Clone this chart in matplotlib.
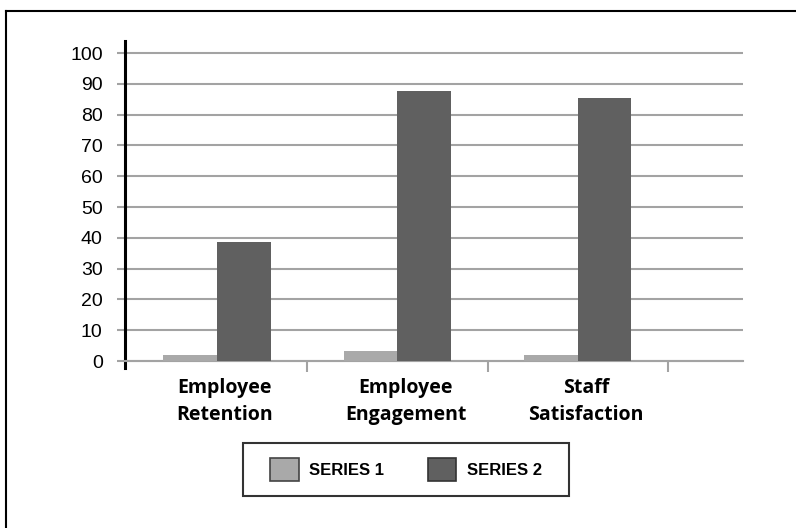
import numpy as np
import matplotlib.pyplot as plt
from matplotlib.patches import Patch, Rectangle
from matplotlib.lines import Line2D
from matplotlib.transforms import ScaledTranslation

categories = ["Employee\nRetention", "Employee\nEngagement", "Staff\nSatisfaction"]
series_names = ["SERIES 1", "SERIES 2"]
series1 = [2.1, 3.4, 2.0]
series2 = [38.5, 87.6, 85.3]
y_ticks = [0, 10, 20, 30, 40, 50, 60, 70, 80, 90, 100]

light = "#a9a9a9"
dark = "#606060"
grid_gray = "#a3a3a3"

fig = plt.figure(figsize=(7.96, 5.28), dpi=100)
ax = fig.add_axes([0.157, 0.303, 0.7764, 0.6193])

x = np.arange(len(categories))
w = 0.297
ax.bar(x - w / 2, series1, w, color=light, zorder=3)
ax.bar(x + w / 2, series2, w, color=dark, zorder=3)

ax.set_xlim(-0.51, 2.915)
ax.set_ylim(-2.27, 103.9)

# y axis
ax.set_yticks(y_ticks)
ax.yaxis.grid(True, color=grid_gray, lw=1.5)
ax.set_axisbelow(True)
ax.tick_params(axis="y", length=6, width=1.5, color=grid_gray, pad=10, labelsize=14)
for lab in ax.get_yticklabels():
    lab.set_family("Liberation Sans")

# spines
ax.spines["top"].set_visible(False)
ax.spines["right"].set_visible(False)
ax.spines["left"].set_linewidth(2.2)
ax.spines["left"].set_color("black")
ax.spines["bottom"].set_position(("data", 0))
ax.spines["bottom"].set_color(grid_gray)
ax.spines["bottom"].set_linewidth(1.5)

# x axis: labels at categories, tick marks between them
ax.set_xticks(x, categories)
ax.set_xticks([i + 0.5 for i in range(len(categories))], minor=True)
ax.tick_params(axis="x", which="major", length=0, pad=12)
ax.tick_params(axis="x", which="minor", length=8, width=1.5, color=grid_gray)
shift = ScaledTranslation(8 / 100, 0, fig.dpi_scale_trans)
for lab in ax.get_xticklabels():
    lab.set_family("Open Sans")
    lab.set_weight("bold")
    lab.set_fontsize(14)
    lab.set_linespacing(1.5)
    lab.set_transform(lab.get_transform() + shift)

# legend
handles = [Patch(facecolor=light, edgecolor="#444444", lw=1.2),
           Patch(facecolor=dark, edgecolor="#333333", lw=1.2)]
fig.legend(handles, series_names, loc="center", bbox_to_anchor=(0.5101, 0.1108),
           ncol=2, frameon=False, handlelength=1.7, handleheight=1.75,
           handletextpad=0.65, columnspacing=2.6,
           prop=dict(family="Liberation Sans", weight="bold", size=12))
fig.patches.append(Rectangle((243 / 796, 1 - 496 / 528), 326 / 796, 53 / 528,
                             transform=fig.transFigure, fill=False,
                             ec="#333333", lw=1.5))

# outer frame (left and top edges only)
fig.add_artist(Line2D([6 / 796, 6 / 796], [0, 1 - 11 / 528],
                      transform=fig.transFigure, color="black", lw=1.5))
fig.add_artist(Line2D([6 / 796, 1], [1 - 11 / 528, 1 - 11 / 528],
                      transform=fig.transFigure, color="black", lw=1.5))

fig.savefig("out.png", dpi=100)
